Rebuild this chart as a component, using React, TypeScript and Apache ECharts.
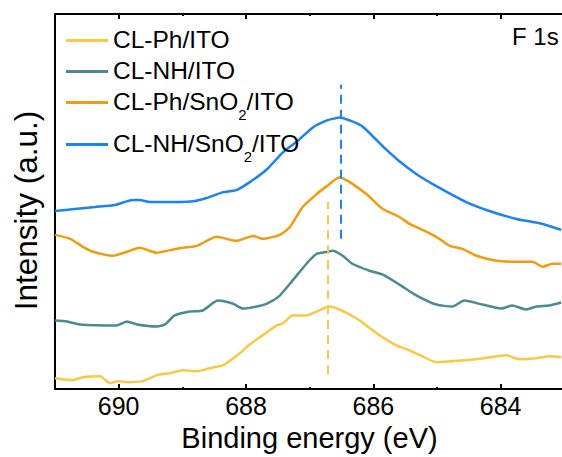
import React, { useEffect, useRef } from "react";
import * as echarts from "echarts";

const seriesNames = ["CL-Ph/ITO", "CL-NH/ITO", "CL-Ph/SnO2/ITO", "CL-NH/SnO2/ITO"];
const colors = ["#F9C846", "#4A8A90", "#F09C0E", "#1A82F2"];

const phItoE = [691.0, 690.72, 690.56, 690.29, 690.14, 690.01, 689.87, 689.62, 689.4, 689.2, 688.99, 688.77, 688.57, 688.36, 688.1, 687.94, 687.74, 687.52, 687.42, 687.27, 687.05, 686.89, 686.69, 686.53, 686.26, 686.11, 685.9, 685.64, 685.43, 685.23, 685.01, 684.76, 684.38, 683.91, 683.71, 683.44, 683.24, 683.05];
const phItoI = [11, 9, 12, 13, 6, 8, 7, 8, 14, 16, 19, 18, 21, 24, 36, 45, 54, 64, 66, 74, 74, 78, 83, 80, 71, 64, 54, 44, 39, 33, 27, 28, 30, 34, 30, 31, 33, 32];

const nhItoE = [691.0, 690.81, 690.61, 690.03, 689.87, 689.71, 689.4, 689.27, 689.12, 688.88, 688.68, 688.44, 688.21, 688.05, 687.83, 687.67, 687.47, 687.27, 687.05, 686.89, 686.73, 686.64, 686.48, 686.33, 686.06, 685.85, 685.59, 685.32, 685.01, 684.76, 684.57, 684.29, 683.99, 683.82, 683.6, 683.44, 683.24, 683.05];
const nhItoI = [69, 68, 65, 64, 68, 65, 63, 65, 74, 78, 79, 89, 86, 81, 83, 86, 94, 109, 126, 136, 138, 139, 134, 126, 119, 115, 105, 94, 85, 83, 89, 85, 81, 84, 80, 83, 84, 87];

const phSnE = [691.0, 690.76, 690.56, 690.4, 690.09, 689.87, 689.67, 689.4, 689.24, 688.99, 688.77, 688.46, 688.15, 687.89, 687.74, 687.47, 687.31, 687.11, 686.89, 686.73, 686.53, 686.37, 686.11, 685.85, 685.59, 685.43, 685.16, 684.96, 684.8, 684.6, 684.38, 684.07, 683.75, 683.5, 683.34, 683.19, 683.05];
const phSnI = [155, 151, 143, 138, 134, 138, 142, 137, 139, 142, 144, 153, 149, 154, 151, 155, 163, 183, 196, 204, 213, 208, 196, 181, 173, 166, 158, 151, 144, 141, 134, 129, 128, 128, 123, 126, 126];

const nhSnE = [691.0, 690.69, 690.37, 690.06, 689.78, 689.67, 689.51, 689.27, 689.09, 688.8, 688.62, 688.49, 688.36, 688.15, 687.94, 687.67, 687.42, 687.16, 686.95, 686.73, 686.61, 686.53, 686.37, 686.17, 685.85, 685.59, 685.32, 685.01, 684.54, 684.13, 683.75, 683.34, 683.05];
const nhSnI = [179, 181, 183, 185, 190, 190, 188, 188, 188, 189, 192, 195, 198, 200, 208, 221, 238, 251, 263, 270, 272, 273, 270, 264, 244, 229, 216, 204, 188, 178, 171, 166, 160];

const peakBlue = 686.51;
const peakBlueRange = [151, 306];
const peakYellow = 686.72;
const peakYellowRange = [15, 188];

const xTicks = [684, 686, 688, 690];

const pairs = (e: number[], v: number[]) => e.map((x, i) => [x, v[i]]);

const legendLabel = (name: string) => {
  const parts = name.split("2");
  if (parts.length === 1) return `{a|${name}}`;
  return `{a|${parts[0]}}{s|2}{a|${parts[1]}}`;
};

export default function App() {
  const ref = useRef<HTMLDivElement>(null);
  useEffect(() => {
    if (!ref.current) return;
    const chart = echarts.init(ref.current, undefined, { renderer: "svg" });
    const font = "Liberation Sans, Arial, sans-serif";
    const data = [
      pairs(phItoE, phItoI),
      pairs(nhItoE, nhItoI),
      pairs(phSnE, phSnI),
      pairs(nhSnE, nhSnI),
    ];
    const legendTops = [27, 58, 89, 131];
    const rich = {
      a: { fontSize: 24.5, fontFamily: font, color: "#000", verticalAlign: "top", lineHeight: 27 },
      s: { fontSize: 15, fontFamily: font, color: "#000", verticalAlign: "top", lineHeight: 15, padding: [18, 0, 0, 0] },
    };
    const axisCommon = {
      type: "value",
      min: 682,
      max: 691,
      interval: 2,
      inverse: true,
      splitLine: { show: false },
      axisLine: { show: true, onZero: false, lineStyle: { color: "#000", width: 2 } },
      axisTick: { show: true, inside: true, length: 5, lineStyle: { color: "#000", width: 2 } },
      minorTick: { show: true, splitNumber: 2, length: 2, lineStyle: { color: "#000", width: 2 } },
    };
    chart.setOption({
      animation: false,
      grid: { left: 55, top: 14, right: 2, bottom: 66, containLabel: false },
      legend: seriesNames.map((n, i) => ({
        data: [n],
        orient: "vertical",
        left: 66,
        top: legendTops[i],
        icon: "rect",
        itemWidth: 42,
        itemHeight: 3,
        itemGap: 0,
        padding: 0,
        formatter: legendLabel,
        textStyle: { rich, padding: [0, 0, 0, 0] },
      })),
      xAxis: [
        {
          ...axisCommon,
          position: "bottom",
          name: "Binding energy (eV)",
          nameLocation: "middle",
          nameGap: 32,
          nameTextStyle: { fontSize: 29, fontFamily: font, color: "#000", padding: [0, 64, 0, 0] },
          axisLabel: {
            show: true,
            margin: 4,
            fontSize: 25,
            fontFamily: font,
            color: "#000",
            formatter: (v: number) => (xTicks.includes(v) ? String(v) : ""),
          },
        },
        {
          ...axisCommon,
          position: "top",
          axisLabel: { show: false },
        },
      ],
      yAxis: {
        type: "value",
        min: 0,
        max: 377,
        name: "Intensity (a.u.)",
        nameLocation: "middle",
        nameGap: 13,
        nameTextStyle: { fontSize: 31.5, fontFamily: font, color: "#000", padding: [0, 18, 0, 0] },
        axisLine: { show: true, lineStyle: { color: "#000", width: 2 } },
        axisTick: { show: false },
        axisLabel: { show: false },
        splitLine: { show: false },
      },
      graphic: [
        {
          type: "text",
          left: 512,
          top: 24,
          style: { text: "F 1s", fontSize: 24, fontFamily: font, fill: "#000" },
        },
      ],
      series: seriesNames.map((n, i) => ({
        name: n,
        type: "line",
        data: data[i],
        showSymbol: false,
        symbol: "none",
        smooth: 0.2,
        color: colors[i],
        lineStyle: { width: 2.5, color: colors[i] },
        z: 3,
        markLine:
          i === 0 || i === 3
            ? {
                silent: true,
                symbol: ["none", "none"],
                label: { show: false },
                lineStyle: { type: [9, 6], width: 2, color: colors[i] },
                data: [
                  [
                    { coord: [i === 0 ? peakYellow : peakBlue, (i === 0 ? peakYellowRange : peakBlueRange)[0]] },
                    { coord: [i === 0 ? peakYellow : peakBlue, (i === 0 ? peakYellowRange : peakBlueRange)[1]] },
                  ],
                ],
              }
            : undefined,
      })),
    });
    return () => chart.dispose();
  }, []);
  return (
    <div style={{ position: "fixed", left: 0, top: 0, width: 562, height: 457, overflow: "hidden", background: "#fff" }}>
      <div ref={ref} style={{ width: 631, height: 457 }} />
    </div>
  );
}
